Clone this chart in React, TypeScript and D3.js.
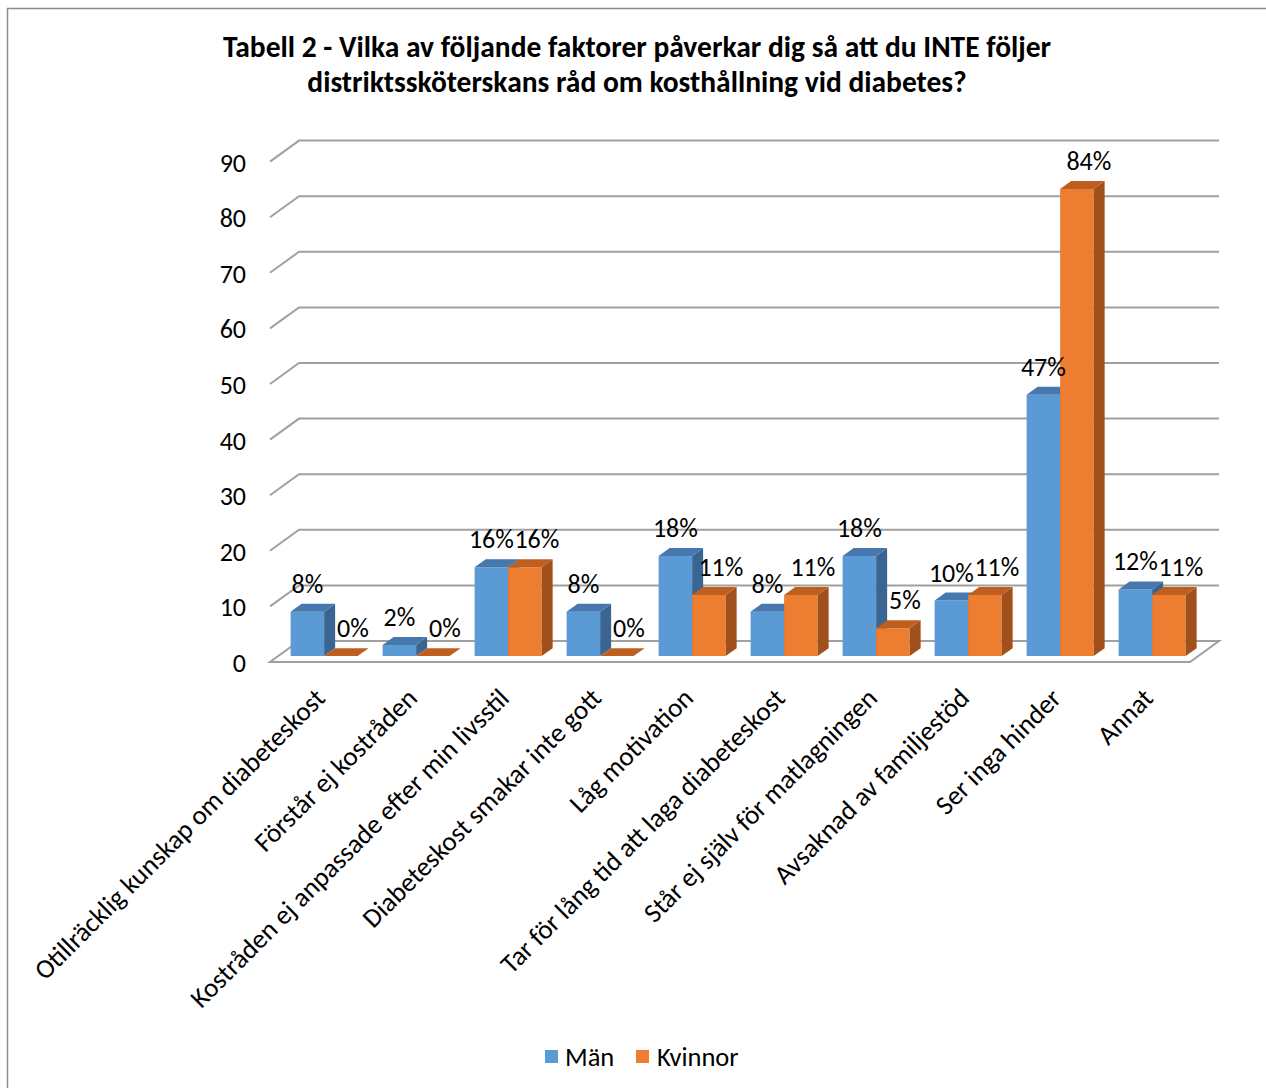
import React from 'react';
import * as d3 from 'd3';

const categories = [
  'Otillräcklig kunskap om diabeteskost',
  'Förstår ej kostråden',
  'Kostråden ej anpassade efter min livsstil',
  'Diabeteskost smakar inte gott',
  'Låg motivation',
  'Tar för lång tid att laga diabeteskost',
  'Står ej själv för matlagningen',
  'Avsaknad av familjestöd',
  'Ser inga hinder',
  'Annat',
];
const seriesNames = ['Män', 'Kvinnor'];
const manValues = [8, 2, 16, 8, 18, 8, 18, 10, 47, 12];
const kvinnorValues = [0, 0, 16, 0, 11, 11, 5, 11, 84, 11];
const yTicks = [0, 10, 20, 30, 40, 50, 60, 70, 80, 90];
const titleLines = [
  'Tabell 2 - Vilka av följande faktorer påverkar dig så att du INTE följer',
  'distriktssköterskans råd om kosthållning vid diabetes?',
];

const FONT = 'Carlito, Lato, "Open Sans", sans-serif';
const colors = {
  Män: { front: '#5b9bd5', top: '#4677ad', side: '#3a6592' },
  Kvinnor: { front: '#ed7d31', top: '#bf5f1f', side: '#a2501b' },
};

export default function App() {
  const W = 1266;
  const H = 1088;
  const DX = 29;
  const DY = 21;
  const zF = 0.28;
  const zB = 0.66;

  const x0 = d3.scaleBand<string>().domain(categories).range([270, 1190]).padding(0);
  const x1 = d3
    .scaleBand<string>()
    .domain(seriesNames)
    .range([0, x0.bandwidth()])
    .paddingInner(0)
    .paddingOuter(0.373);
  const y = d3.scaleLinear().domain([0, 90]).range([662, 161.6]);
  const P = (x: number, v: number, z: number): [number, number] => [x + z * DX, y(v) - z * DY];
  const pts = (arr: [number, number][]) => arr.map((p) => p.join(',')).join(' ');

  const [xL, xR] = x0.range();
  const gridColor = '#a0a0a0';

  const series = [
    { name: 'Män', values: manValues, labelShift: 0 },
    { name: 'Kvinnor', values: kvinnorValues, labelShift: 12 },
  ];

  const bars: React.ReactNode[] = [];
  const labels: React.ReactNode[] = [];
  categories.forEach((c, i) => {
    series.forEach((s) => {
      const v = s.values[i];
      const xl = (x0(c) as number) + (x1(s.name) as number);
      const xr = xl + x1.bandwidth();
      const col = (colors as any)[s.name];
      bars.push(
        <g key={`${c}-${s.name}`}>
          {v > 0 && (
            <polygon points={pts([P(xl, 0, zF), P(xr, 0, zF), P(xr, v, zF), P(xl, v, zF)])} fill={col.front} />
          )}
          {v > 0 && (
            <polygon points={pts([P(xr, 0, zF), P(xr, 0, zB), P(xr, v, zB), P(xr, v, zF)])} fill={col.side} />
          )}
          <polygon points={pts([P(xl, v, zF), P(xr, v, zF), P(xr, v, zB), P(xl, v, zB)])} fill={col.top} />
        </g>
      );
      const [lx] = P((xl + xr) / 2, v, zF);
      const [, ly] = P(xl, v, zB);
      labels.push(
        <text
          key={`l-${c}-${s.name}`}
          x={lx + s.labelShift}
          y={ly - 20}
          dominantBaseline="central"
          textAnchor="middle"
          fontSize={26}
          fill="#000"
        >
          {v}%
        </text>
      );
    });
  });

  return (
    <svg
      width={W}
      height={H}
      style={{ position: 'absolute', left: 0, top: 0, background: '#fff' }}
      fontFamily={FONT}
    >
      <rect x={7.5} y={8.5} width={1300} height={1200} fill="#fff" stroke="#8c8c8c" strokeWidth={1.5} />
      {titleLines.map((t, i) => (
        <text key={t} x={637} y={57 + i * 35} textAnchor="middle" fontSize={29.5} fontWeight="bold" fill="#000">
          {t}
        </text>
      ))}
      {yTicks.map((t) => (
        <g key={t}>
          {t > 0 && (
            <polyline
              points={pts([P(xL, t, 0), P(xL, t, 1), P(xR, t, 1)])}
              fill="none"
              stroke={gridColor}
              strokeWidth={2}
            />
          )}
          <text x={246} y={y(t) + 1} textAnchor="end" dominantBaseline="central" fontSize={26} fill="#000">
            {t}
          </text>
        </g>
      ))}
      <polygon
        points={pts([P(xL, 0, 0), P(xR, 0, 0), P(xR, 0, 1), P(xL, 0, 1)])}
        fill="#fff"
        stroke={gridColor}
        strokeWidth={2}
      />
      {bars}
      {labels}
      {categories.map((c) => {
        const cx = (x0(c) as number) + x0.bandwidth() / 2 - 3;
        return (
          <text
            key={`c-${c}`}
            transform={`translate(${cx},${686}) rotate(-45)`}
            textAnchor="end"
            dy="0.72em"
            fontSize={27}
            fill="#000"
          >
            {c}
          </text>
        );
      })}
      <rect x={545} y={1050} width={13} height={13} fill={colors['Män'].front} />
      <text x={565} y={1057} dominantBaseline="central" fontSize={26.5} fill="#000">
        Män
      </text>
      <rect x={636} y={1050} width={13} height={13} fill={colors['Kvinnor'].front} />
      <text x={657} y={1057} dominantBaseline="central" fontSize={26.5} fill="#000">
        Kvinnor
      </text>
    </svg>
  );
}
